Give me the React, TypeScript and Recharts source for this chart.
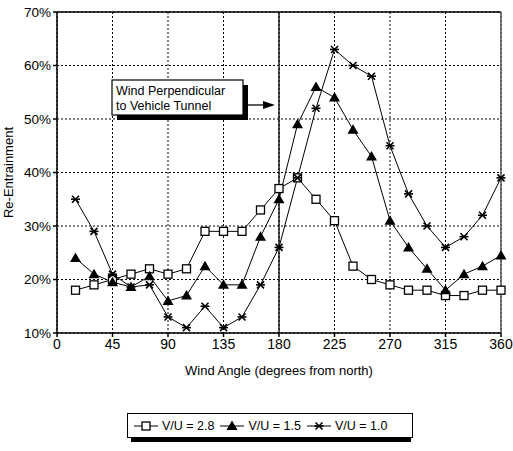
import { CartesianGrid, Legend, Line, LineChart, ReferenceLine, XAxis, YAxis, Label } from 'recharts'

const angles = [15, 30, 45, 60, 75, 90, 105, 120, 135, 150, 165, 180, 195, 210, 225, 240, 255, 270, 285, 300, 315, 330, 345, 360]
const vu28 = [18, 19, 20, 21, 22, 21, 22, 29, 29, 29, 33, 37, 39, 35, 31, 22.5, 20, 19, 18, 18, 17, 17, 18, 18]
const vu15 = [24, 21, 19.5, 18.6, 20.6, 16, 17, 22.5, 19, 19, 28, 35, 49, 56, 54, 48, 43, 31, 26, 22, 18, 21, 22.5, 24.5]
const vu10 = [35, 29, 21, 18.6, 19, 13, 11, 15, 11, 13, 19, 26, 39, 52, 63, 60, 58, 45, 36, 30, 26, 28, 32, 39]
const xTicks = [0, 45, 90, 135, 180, 225, 270, 315, 360]
const yTicks = [10, 20, 30, 40, 50, 60, 70]

const seriesNames = ['V/U = 2.8', 'V/U = 1.5', 'V/U = 1.0']

const data = angles.map((a, i) => ({ angle: a, s28: vu28[i], s15: vu15[i], s10: vu10[i] }))

const FONT = 'Liberation Sans, Arial, sans-serif'

function SquareDot(p: any) {
  const { cx, cy } = p
  if (cx == null || cy == null) return <g key={p.index} />
  return <rect key={p.index} x={cx - 4} y={cy - 4} width={8} height={8} fill="#fff" stroke="#000" strokeWidth={1.3} />
}

function TriDot(p: any) {
  const { cx, cy } = p
  if (cx == null || cy == null) return <g key={p.index} />
  return <polygon key={p.index} points={`${cx},${cy - 5.5} ${cx + 5.5},${cy + 4} ${cx - 5.5},${cy + 4}`} fill="#000" />
}

function StarDot(p: any) {
  const { cx, cy } = p
  if (cx == null || cy == null) return <g key={p.index} />
  const r = 3.5
  return (
    <g key={p.index} stroke="#000" strokeWidth={1.6}>
      <line x1={cx - r} y1={cy - r} x2={cx + r} y2={cy + r} />
      <line x1={cx - r} y1={cy + r} x2={cx + r} y2={cy - r} />
      <line x1={cx - r - 1} y1={cy} x2={cx + r + 1} y2={cy} />
    </g>
  )
}

function Annotation(props: any) {
  const { viewBox } = props
  const x = viewBox.x
  const y = viewBox.y
  const left = x - 167
  const top = y + 68
  const w = 131
  const h = 35
  return (
    <g>
      <rect x={left + 5} y={top + 5} width={w} height={h} fill="#000" />
      <rect x={left} y={top} width={w} height={h} fill="#fff" stroke="#000" strokeWidth={1.2} />
      <text x={left + 4} y={top + 15} fontSize={12.5} fontFamily={FONT} fill="#000">Wind Perpendicular</text>
      <text x={left + 4} y={top + 30} fontSize={12.5} fontFamily={FONT} fill="#000">to Vehicle Tunnel</text>
      <line x1={left + w + 5} y1={top + 25} x2={x - 12} y2={top + 25} stroke="#000" strokeWidth={1.3} />
      <polygon points={`${x - 4},${top + 25} ${x - 16},${top + 21} ${x - 16},${top + 29}`} fill="#000" />
    </g>
  )
}

function LegendBox() {
  const items = [SquareDot, TriDot, StarDot]
  return (
    <div style={{ position: 'relative', width: 280, height: 25 }}>
      <div style={{ position: 'absolute', left: 4, top: 4, width: 280, height: 25, background: '#000' }} />
      <div
        style={{
          position: 'absolute', left: 0, top: 0, width: 278, height: 23, background: '#fff',
          border: '1px solid #000', display: 'flex', alignItems: 'center', fontFamily: FONT,
          fontSize: 12.5, color: '#000', paddingLeft: 6,
        }}
      >
        {items.map((Dot, i) => (
          <span key={i} style={{ display: 'flex', alignItems: 'center', marginRight: 6 }}>
            <svg width={24} height={14}>
              <line x1={0} y1={7} x2={24} y2={7} stroke="#000" strokeWidth={1} />
              {Dot({ cx: 12, cy: 7, index: i })}
            </svg>
            <span style={{ marginLeft: 4 }}>{seriesNames[i]}</span>
          </span>
        ))}
      </div>
    </div>
  )
}

export default function App() {
  return (
    <div style={{ position: 'absolute', left: 0, top: 0, width: 513, height: 451, background: '#fff' }}>
      <LineChart width={513} height={451} data={data} margin={{ top: 12, right: 12, left: 0, bottom: 48 }}>
        <CartesianGrid stroke="#000" strokeDasharray="2 2" strokeWidth={1} />
        <XAxis
          dataKey="angle"
          type="number"
          domain={[0, 360]}
          ticks={xTicks}
          height={45}
          tickSize={4}
          stroke="#000"
          strokeWidth={1.5}
          tick={{ fill: '#000', fontSize: 14, fontFamily: FONT }}
        >
          <Label value="Wind Angle (degrees from north)" position="insideBottom" offset={3} style={{ fill: '#000', fontSize: 13, fontFamily: FONT }} />
        </XAxis>
        <YAxis
          domain={[10, 70]}
          ticks={yTicks}
          width={57}
          tickSize={4}
          stroke="#000"
          strokeWidth={1.5}
          tickFormatter={(v) => `${v}%`}
          tick={{ fill: '#000', fontSize: 13.5, fontFamily: FONT }}
        >
          <Label value="Re-Entrainment" angle={-90} position="insideLeft" offset={8} style={{ fill: '#000', fontSize: 13, fontFamily: FONT, textAnchor: 'middle' }} />
        </YAxis>
        <ReferenceLine y={70} stroke="#000" strokeWidth={1.5} />
        <ReferenceLine x={360} stroke="#555" strokeWidth={1.5} />
        <ReferenceLine x={180} stroke="#000" strokeWidth={1.3} label={<Annotation />} />
        <Line type="linear" dataKey="s28" name={seriesNames[0]} stroke="#000" strokeWidth={1} dot={SquareDot} isAnimationActive={false} />
        <Line type="linear" dataKey="s15" name={seriesNames[1]} stroke="#000" strokeWidth={1} dot={TriDot} isAnimationActive={false} />
        <Line type="linear" dataKey="s10" name={seriesNames[2]} stroke="#000" strokeWidth={1} dot={StarDot} isAnimationActive={false} />
        <Legend content={() => <LegendBox />} wrapperStyle={{ left: 127, top: 413, width: 290 }} />
      </LineChart>
    </div>
  )
}
